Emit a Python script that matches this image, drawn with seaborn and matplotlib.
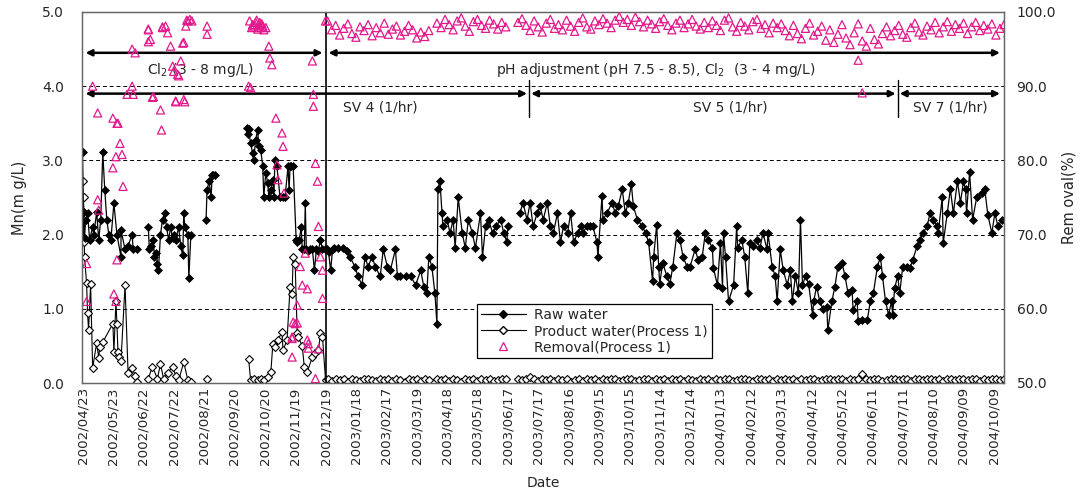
import numpy as np
import pandas as pd
import matplotlib
matplotlib.use("Agg")
import matplotlib.pyplot as plt
import matplotlib.dates as mdates
from matplotlib.lines import Line2D
import seaborn as sns

START = pd.Timestamp("2002-04-23")
MAGENTA = "#e3188c"

# ---- raw water Mn (mg/L), day offset from 2002/04/23, None = gap
raw_day = [
    0, 1, 2, 3, 5, 7, 10, 11, 14, 16, 18, 20, 22, 24, 26, 28, 31, 34, 38, 38, 42, 45, 49, 50, 54, 58,
    65, 66, 68, 70, 71, 73, 74, 75, 77, 79, 81, 83, 85, 87, 89, 90, 92, 95, 97, 99, 100, 101, 104, 105, 107, 112,
    122, 123, 125, 127, 128, 129, 131, 140,
    162, 163, 164, 166, 168, 169, 171, 173, 174, 176, 178, 179, 181, 183, 184, 186, 188, 189, 190, 192, 195, 198, 200,
    203, 204, 205, 206, 208, 211, 212, 214, 216, 217, 219, 220, 221, 223, 225, 227, 229, 231, 233, 235, 237, 239, 241, 243, 245, 247,
    248, 252, 257, 261, 264, 269, 272, 276, 279, 282, 286, 289, 294, 297, 301, 304, 309, 311, 314, 319, 324, 329, 334, 337, 340, 342, 345, 348, 350,
    351, 353, 355, 356, 360, 363, 366, 368, 371, 375, 378, 381, 385, 388, 393, 395, 398, 401, 405, 408, 413, 416, 419, 420, 425,
    432, 435, 439, 442, 445, 449, 452, 455, 459, 462, 465, 469, 472, 475, 479, 482, 485, 489, 492, 494, 498, 501, 504, 508, 509,
    513, 514, 518, 523, 526, 529, 533, 536, 539, 542, 544, 548, 553, 556, 559, 563, 564, 567, 569, 570, 573, 577, 580, 583, 587, 590, 593, 597, 600, 605, 608,
    612, 615, 618, 622, 623, 627, 630, 632, 633, 635, 638, 643, 646, 647, 651, 654, 657, 659, 662, 666, 669, 672, 676, 677, 681, 684, 686, 689, 692, 696,
    699, 701, 704, 707, 709, 711, 714, 717, 721, 722, 725, 728, 731, 735, 736, 740, 743, 746, 750, 753, 756, 760, 761, 765, 766, 770, 775, 778, 781, 785,
    788, 790, 793, 796, 799, 800, 802, 805, 807, 810, 814, 817, 820, 824, 827, 830, 834, 837, 840, 844, 845, 849, 850, 854, 857, 860, 864, 867, 870, 872,
    873, 876, 879, 883, 888, 891, 894, 898, 901, 904, 908,
]
raw_mn = [
    3.11, 2.3, 1.95, 2.2, 2.29, 1.93, 2.1, 2.0, 2.3, 1.93, 2.2, 3.11, 2.6, 2.2, 2.0, 1.93, 2.42, 2.0, 2.06, 1.7, 1.8, 1.85, 2.0, 1.8, 1.8, None,
    2.1, 1.8, 1.85, 1.93, 1.7, 1.75, 1.6, 1.52, 2.0, 2.2, 2.29, 2.1, 1.93, 2.1, 1.95, 2.0, 1.93, 2.1, 1.84, 1.72, 2.29, 2.1, 2.0, 1.41, 2.0, None,
    2.2, 2.6, 2.72, 2.5, 2.8, 2.8, 2.8, None,
    3.44, 3.35, 3.42, 3.23, 3.1, 3.0, 3.28, 3.41, 3.19, 3.14, 2.92, 2.51, 2.83, 2.69, 2.51, 2.6, 2.74, 2.51, 3.0, 2.92, 2.51, 2.51, 2.51,
    2.92, 2.6, 2.92, 2.92, 2.92, 1.93, 1.9, 1.93, 2.1, 1.8, 1.8, 2.42, 1.8, 1.78, 1.8, 1.8, 1.52, 1.8, 1.78, 1.93, 1.8, 1.8, 1.8, 1.76, 1.52, 1.8,
    1.82, 1.82, 1.82, 1.78, 1.7, 1.57, 1.44, 1.32, 1.7, 1.57, 1.7, 1.57, 1.44, 1.8, 1.57, 1.52, 1.8, 1.44, 1.44, 1.44, 1.44, 1.32, 1.52, 1.3, 1.21, 1.7, 1.57, 1.21, 0.8,
    2.61, 2.72, 2.29, 2.11, 2.2, 2.02, 2.2, 1.82, 2.5, 2.02, 1.82, 2.2, 2.02, 1.82, 2.29, 1.7, 2.11, 2.2, 2.02, 2.11, 2.2, 2.02, 1.9, 2.11, None,
    2.29, 2.43, 2.2, 2.43, 2.11, 2.29, 2.38, 2.2, 2.43, 2.11, 2.02, 2.29, 1.9, 2.11, 2.02, 2.29, 1.9, 2.02, 2.11, 2.02, 2.11, 2.11, 2.11, 1.9, 1.7,
    2.52, 2.2, 2.29, 2.43, 2.29, 2.38, 2.61, 2.29, 2.43, 2.68, 2.38, 2.2, 2.11, 2.02, 1.9, 1.37, 1.7, 2.13, 1.57, 1.34, 1.62, 1.44, 1.34, 1.57, 2.02, 1.93, 1.7, 1.57, 1.57, 1.8, 1.66,
    1.7, 2.02, 1.93, 1.82, 1.55, 1.32, 1.89, 1.28, 2.02, 1.7, 1.1, 1.32, 2.11, 1.82, 1.93, 1.7, 1.21, 1.89, 1.84, 1.93, 1.82, 2.02, 1.8, 2.02, 1.57, 1.44, 1.1, 1.8, 1.52, 1.32,
    1.52, 1.1, 1.44, 1.21, 2.2, 1.32, 1.44, 1.34, 0.92, 1.1, 1.3, 1.1, 1.0, 1.03, 0.71, 1.1, 1.3, 1.57, 1.62, 1.44, 1.21, 1.25, 0.98, 1.1, 0.83, 0.85, 0.85, 1.1, 1.21, 1.57,
    1.7, 1.44, 1.1, 0.92, 1.1, 0.92, 1.28, 1.44, 1.21, 1.57, 1.57, 1.55, 1.66, 1.84, 1.93, 2.02, 2.11, 2.29, 2.2, 2.11, 2.02, 2.5, 1.89, 2.29, 2.61, 2.29, 2.72, 2.43, 2.72, 2.61,
    2.29, 2.84, 2.2, 2.5, 2.56, 2.61, 2.27, 2.02, 2.29, 2.11, 2.2,
]

# ---- product water, first period (irregular sampling)
prod_day = [
    0, 1, 1, 2, 4, 5, 6, 8, 10, 14, 16, 17, 20, 30, 31, 33, 34, 35, 36, 38, 42, 45, 49, 52, 54, 58,
    65, 69, 74, 77, 80, 84, 89, 92, 95, 100, 104, 107, 112,
    123, 140,
    164, 166, 169, 173, 176, 179, 183, 186, 188, 190, 193, 197, 198, 202, 205, 207, 208, 210, 212, 213, 217, 219, 222, 227, 230, 233, 235, 237, 240,
]
prod_mn = [
    2.72, 2.5, 1.9, 1.7, 1.35, 0.94, 0.71, 1.33, 0.2, 0.54, 0.34, 0.48, 0.55, 0.8, 0.42, 1.1, 0.8, 0.42, 0.35, 0.3, 1.32, 0.13, 0.2, 0.1, 0.02, None,
    0.06, 0.22, 0.06, 0.26, 0.06, 0.13, 0.22, 0.1, 0.04, 0.28, 0.04, 0.02, None,
    0.06, None,
    0.33, 0.04, 0.06, 0.04, 0.06, 0.04, 0.08, 0.15, 0.53, 0.48, 0.58, 0.69, 0.44, 0.58, 1.3, 1.2, 1.7, 1.61, 0.67, 0.62, 0.5, 0.22, 0.15, 0.35, 0.4, 0.44, 0.67, 0.62, 0.04,
]

# ---- product water after 2002/12/21, every 4 days
prod_late = (
    [0.05, 0.03, 0.06, 0.04, 0.05, 0.02, 0.06, 0.04, 0.03, 0.05, 0.06, 0.04, 0.03, 0.05, 0.04, 0.06, 0.03, 0.05, 0.04, 0.02, 0.05, 0.04, 0.06, 0.03, 0.05, 0.04]
    + [None]
    + [0.05, 0.04, 0.06, 0.03, 0.05, 0.04, 0.02, 0.06, 0.04, 0.05, 0.03, 0.06, 0.04, 0.05, 0.03, 0.04, 0.06, 0.05]
    + [None, None]
    + [0.05, 0.04, 0.06, 0.08, 0.05, 0.03, 0.06, 0.04, 0.05, 0.03, 0.06, 0.04, 0.05, 0.02, 0.04, 0.06, 0.03, 0.05, 0.04, 0.06,
       0.03, 0.05, 0.04, 0.06, 0.05, 0.03, 0.04, 0.06, 0.05, 0.03, 0.04, 0.05, 0.06, 0.03, 0.05, 0.04, 0.06, 0.03, 0.05, 0.04,
       0.06, 0.03, 0.05, 0.04, 0.03, 0.05]
    + [0.04, 0.06, 0.03, 0.05, 0.04, 0.06, 0.05, 0.03, 0.04, 0.06, 0.05, 0.04, 0.03, 0.05, 0.06, 0.04, 0.05, 0.03, 0.06, 0.04]
    + [0.05, 0.04, 0.06, 0.03, 0.05, 0.04, 0.06, 0.05, 0.03, 0.04, 0.06, 0.05, 0.04, 0.06, 0.05, 0.03, 0.06, 0.04, 0.05, 0.12]
    + [0.05, 0.04, 0.06, 0.05, 0.03, 0.04, 0.06, 0.05, 0.04, 0.06, 0.05, 0.03, 0.05, 0.06, 0.04, 0.05, 0.06, 0.04, 0.05, 0.03,
       0.06, 0.05, 0.04, 0.06, 0.05, 0.04, 0.06, 0.05, 0.03, 0.05, 0.04, 0.06, 0.05, 0.04, 0.06, 0.05]
)

# ---- removal (%), first period + outliers
rem_day = [
    4, 4, 10, 15, 15, 16, 30, 30, 31, 33, 33, 34, 34, 35, 37, 39, 40, 44, 49, 49, 50, 52, 65, 65, 67, 70, 77, 78, 79, 82, 84, 87, 89, 90, 92, 94, 95, 97, 100, 100, 102, 104, 106, 108, 123, 123,
    164, 166, 168, 169, 171, 173, 174, 176, 178, 181, 184, 185, 187, 191, 192, 193, 197, 198, 199,
    207, 207, 207, 208, 210, 212, 212, 215, 217, 220, 222, 222, 223, 223, 227, 228, 228, 230, 230, 232, 233, 233, 235, 237, 237, 240,
    65, 69, 79, 92, 99, 101, 103, 165, 167, 170, 172, 175, 177, 179, 766, 770,
]
rem_pct = [
    66.1, 61.0, 90.0, 86.4, 74.7, 73.3, 85.7, 79.0, 62.0, 61.0, 80.5, 85.0, 66.6, 85.0, 82.3, 80.8, 76.5, 88.9, 95.0, 90.0, 88.9, 94.5, 97.7, 96.0, 96.3, 88.6, 86.8, 84.1, 97.9, 98.1, 97.2, 95.4, 92.7, 92.0, 88.0, 91.6, 91.4, 93.4, 95.9, 88.2, 98.1, 98.8, 99.0, 98.8, 98.1, 97.0,
    90.0, 89.8, 98.3, 98.1, 98.6, 97.7, 98.3, 97.9, 98.1, 97.9, 95.4, 93.8, 92.9, 85.7, 79.4, 77.4, 83.7, 81.9, 75.6,
    56.2, 56.0, 53.5, 58.2, 58.0, 60.5, 58.1, 65.7, 63.2, 67.5, 62.7, 55.8, 55.3, 54.7, 93.4, 88.9, 87.3, 79.6, 50.6, 77.2, 71.1, 54.6, 67.0, 61.4, 65.2, 98.8,
    97.6, 88.5, 98.0, 87.9, 95.8, 87.9, 98.9, 98.8, 97.9, 98.3, 98.9, 98.6, 98.4, 97.6, 93.5, 89.1,
]

# ---- removal after 2002/12/21, every 4 days
rem_late = (
    [98.8, 97.6, 98.2, 96.9, 97.8, 98.4, 97.1, 96.6, 98.0, 97.5, 98.3, 96.8, 97.9, 97.2, 98.5, 97.0, 97.7, 98.1, 96.9, 97.4, 98.2, 97.6, 96.5, 97.3, 96.7, 97.5]
    + [None]
    + [98.5, 97.9, 99.0, 98.3, 97.6, 98.8, 99.2, 98.1, 97.4, 98.7, 99.0, 98.2, 97.8, 98.9, 98.4, 97.7, 98.6, 98.0]
    + [None, None]
    + [98.6, 99.1, 98.2, 97.5, 98.8, 98.0, 97.3, 98.5, 99.0, 97.8, 98.3, 97.6, 98.9, 98.1, 97.4, 98.6, 99.2, 98.0, 97.7, 98.8,
       98.3, 99.1, 98.5, 97.9, 98.9, 99.4, 98.6, 99.0, 98.2, 99.3, 98.7, 98.0, 98.9, 98.4, 97.8, 98.7, 99.1, 98.2, 97.6, 98.5,
       98.9, 97.9, 98.4, 99.0, 98.1, 97.7]
    + [98.6, 97.9, 98.8, 98.2, 97.5, 98.9, 99.2, 98.0, 97.4, 98.6, 98.1, 97.6, 98.7, 99.0, 97.8, 98.3, 97.2, 98.5, 97.9, 98.4]
    + [97.5, 96.8, 98.2, 97.1, 96.4, 97.8, 98.5, 96.9, 97.4, 98.1, 96.2, 97.6, 95.9, 97.0, 98.3, 96.5, 95.6, 97.2, 98.4, 96.1]
    + [95.4, 97.8, 96.3, 95.7, 97.1, 98.0, 96.8, 97.5, 98.2, 97.0, 96.6, 97.9, 98.5, 97.3, 96.9, 98.1, 97.6, 98.6, 97.2, 98.0,
       98.7, 97.4, 98.3, 97.8, 98.5, 97.1, 98.0, 98.6, 97.5, 98.2, 97.7, 98.4, 96.9, 97.8, 98.3, 97.2]
)
LATE_START = "2002-12-21"

tick_dates = pd.date_range("2002-04-23", periods=31, freq="30D")
tick_labels = tick_dates.strftime("%Y/%m/%d")


def frame(dates, values):
    df = pd.DataFrame({"date": pd.DatetimeIndex(dates), "value": pd.Series(values, dtype="float").values})
    df["seg"] = df["value"].isna().cumsum()
    return df.dropna()


def day(n):
    return mdates.date2num(START + pd.Timedelta(days=n))


raw_df = frame(START + pd.to_timedelta(raw_day, unit="D"), raw_mn)
prod_df = pd.concat([
    frame(START + pd.to_timedelta(prod_day, unit="D"), prod_mn),
    frame(pd.date_range(LATE_START, periods=len(prod_late), freq="4D"), prod_late).assign(seg=lambda d: d.seg + 100),
])
rem_df = pd.concat([
    frame(START + pd.to_timedelta(rem_day, unit="D"), rem_pct),
    frame(pd.date_range(LATE_START, periods=len(rem_late), freq="4D"), rem_late),
])

sns.set_style("white")
plt.rcParams["font.family"] = ["DejaVu Sans"]
plt.rcParams["mathtext.default"] = "regular"

fig = plt.figure(figsize=(10.83, 4.98), dpi=100)
ax = fig.add_axes([82 / 1083, 115 / 498, 922 / 1083, 371 / 498])
ax2 = ax.twinx()

ax.yaxis.grid(True, linestyle=(0, (4, 3)), color="black", linewidth=0.7)
ax.set_axisbelow(True)

sns.lineplot(data=prod_df, x="date", y="value", units="seg", estimator=None, ax=ax,
             color="black", linewidth=0.8, marker="D", markersize=4.4,
             markerfacecolor="white", markeredgecolor="black", markeredgewidth=0.8)
sns.lineplot(data=raw_df, x="date", y="value", units="seg", estimator=None, ax=ax,
             color="black", linewidth=0.9, marker="D", markersize=4.5,
             markerfacecolor="black", markeredgecolor="black", markeredgewidth=0.5)
sns.scatterplot(data=rem_df, x="date", y="value", ax=ax2, marker="^", s=34,
                color=MAGENTA, facecolor="none", edgecolor=MAGENTA, linewidth=0.9)

ax.set_xlim(mdates.date2num(START) - 0.5, day(910))
ax.set_ylim(0, 5)
ax2.set_ylim(50, 100)
ax.set_yticks([0, 1, 2, 3, 4, 5])
ax.set_yticklabels([f"{v:.1f}" for v in [0, 1, 2, 3, 4, 5]])
ax2.set_yticks([50, 60, 70, 80, 90, 100])
ax2.set_yticklabels([f"{v:.1f}" for v in [50, 60, 70, 80, 90, 100]])
ax.set_xticks(mdates.date2num(tick_dates))
ax.set_xticklabels(tick_labels, rotation=90)

ax.tick_params(axis="y", length=0, pad=13, labelsize=10)
ax.tick_params(axis="x", length=0, pad=3, labelsize=9.6)
ax2.tick_params(axis="y", length=0, pad=9, labelsize=10)

ax.set_xlabel("Date", fontsize=10, labelpad=8)
ax.set_ylabel("Mn(m g/L)", fontsize=10.5)
ax2.set_ylabel("Rem oval(%)", fontsize=10.5)
ax.yaxis.set_label_coords(-0.06, 0.5)
ax2.yaxis.set_label_coords(1.062, 0.5)

for a in (ax, ax2):
    for s in a.spines.values():
        s.set_color("#666666")
        s.set_linewidth(0.9)

# operating periods
ax.axvline(day(240), color="black", linewidth=1.2, zorder=3)
arrow = dict(arrowstyle="<|-|>", color="black", lw=1.8, shrinkA=0, shrinkB=0, mutation_scale=9)
for x0, x1, y in [(3, 237, 4.45), (243, 906, 4.45), (3, 439, 3.9), (443, 803, 3.9), (807, 906, 3.9)]:
    ax.annotate("", xy=(day(x1), y), xytext=(day(x0), y), arrowprops=arrow, zorder=4)
for x in (441, 805):
    ax.plot([day(x), day(x)], [3.58, 4.08], color="black", linewidth=1.0, zorder=4)

ax.text(day(116), 4.22, "Cl$_2$ (3 - 8 mg/L)", ha="center", va="center", fontsize=10)
ax.text(day(566), 4.22, "pH adjustment (pH 7.5 - 8.5), Cl$_2$  (3 - 4 mg/L)", ha="center", va="center", fontsize=10)
ax.text(day(257), 3.71, "SV 4 (1/hr)", ha="left", va="center", fontsize=10)
ax.text(day(603), 3.71, "SV 5 (1/hr)", ha="left", va="center", fontsize=10)
ax.text(day(820), 3.71, "SV 7 (1/hr)", ha="left", va="center", fontsize=10)

handles = [
    Line2D([], [], color="black", lw=0.9, marker="D", ms=4.5, mfc="black", mec="black"),
    Line2D([], [], color="black", lw=0.8, marker="D", ms=4.2, mfc="white", mec="black"),
    Line2D([], [], color="none", marker="^", ms=6, mfc="none", mec=MAGENTA, mew=0.9),
]
leg = ax2.legend(handles, ["Raw water", "Product water(Process 1)", "Removal(Process 1)"],
                 loc="upper left", bbox_to_anchor=(0.421, 0.232), fontsize=10,
                 frameon=True, fancybox=False, framealpha=1, edgecolor="black",
                 handlelength=3.2, borderpad=0.3, labelspacing=0.15, handletextpad=0.6)
leg.get_frame().set_linewidth(0.9)

fig.savefig("out.png", dpi=100)
